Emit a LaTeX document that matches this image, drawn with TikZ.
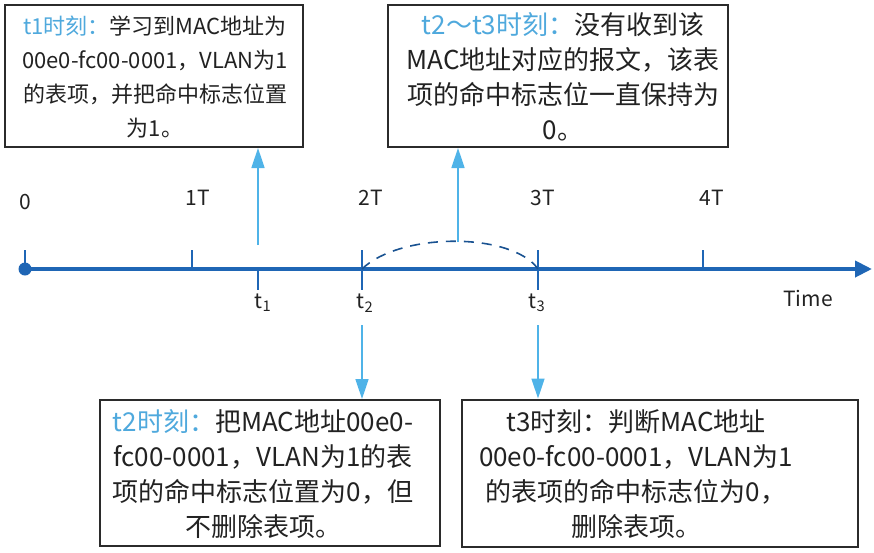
\documentclass[tikz,border=0pt]{standalone}
\usepackage{fontspec}
\setmainfont{Noto Sans CJK SC}
\usetikzlibrary{arrows.meta}
\definecolor{axisblue}{HTML}{1F66B5}
\definecolor{arrowblue}{HTML}{4FB3E8}
\definecolor{labelblue}{HTML}{4FA9DD}
\definecolor{boxline}{HTML}{2B2B2B}
\definecolor{txt}{HTML}{222222}
\tikzset{
  infobox/.style={draw=boxline, line width=2pt, fill=white, inner sep=0pt},
  boxtext/.style={inner sep=0pt, align=center, text=txt, font=\fontsize{26}{35}\selectfont},
  smalltext/.style={boxtext, font=\fontsize{22}{34}\selectfont},
  ticklabel/.style={font=\fontsize{21}{24}\selectfont, text=txt, inner sep=0pt},
  tickmark/.style={draw=axisblue, line width=2pt},
  callout/.style={draw=arrowblue, line width=1.6pt, -{Triangle[length=20pt,width=13pt]}},
}
\newcommand{\hl}[1]{\textcolor{labelblue}{#1}}
\begin{document}
\begin{tikzpicture}[x=1pt,y=-1pt]
\useasboundingbox (0,0) rectangle (874,552);
% boxes
\node[infobox, minimum width=298pt, minimum height=142pt] (b1) at (154,76) {};
\node[smalltext] (t1text) at (155,77)
  {\hl{t1时刻：}学习到MAC地址为\\00e0-fc00-0001，VLAN为1\\的表项，并把命中标志位置\\为1。};
\node[infobox, minimum width=340pt, minimum height=142pt] (b2) at (558,76) {};
\node[boxtext] (t2text) at (563,77)
  {\hl{t2～t3时刻：}没有收到该\\MAC地址对应的报文，该表\\项的命中标志位一直保持为\\0。};
\node[infobox, minimum width=340pt, minimum height=146pt] (b3) at (270,473) {};
\node[boxtext] (t3text) at (263,474)
  {\hl{t2时刻：}把MAC地址00e0-\\fc00-0001，VLAN为1的表\\项的命中标志位置为0，但\\不删除表项。};
\node[infobox, minimum width=396pt, minimum height=147pt] (b4) at (660,473) {};
\node[boxtext] (t4text) at (636,474)
  {t3时刻：判断MAC地址\\00e0-fc00-0001，VLAN为1\\的表项的命中标志位为0，\\删除表项。};
% axis
\coordinate (o) at (25,269);
\coordinate (tip) at (872,269);
\coordinate (p1) at (192,269);
\coordinate (t1) at (258,269);
\coordinate (t2) at (362,269);
\coordinate (t3) at (538,269);
\coordinate (p4) at (703,269);
\draw[tickmark] (o) -- ++(0,-19);
\draw[tickmark] (p1) -- ++(0,-19);
\draw[tickmark] (t1) -- ++(0,21);
\draw[tickmark] (t2) ++(0,-19) -- ++(0,40);
\draw[tickmark] (t3) ++(0,-19) -- ++(0,40);
\draw[tickmark] (p4) -- ++(0,-19);
\draw[axisblue, line width=4pt, -{Triangle[length=17pt,width=16pt]}] (o) -- (tip);
\fill[axisblue] (o) circle (6.5pt);
% labels
\node[ticklabel] (l0) at (25,202) {0};
\node[ticklabel] (l1) at (198,198) {1T};
\node[ticklabel] (l2) at (371,198) {2T};
\node[ticklabel] (l3) at (543,198) {3T};
\node[ticklabel] (l4) at (712,198) {4T};
\node[ticklabel] (lt1) at (263,303) {t\textsubscript{1}};
\node[ticklabel] (lt2) at (365,303) {t\textsubscript{2}};
\node[ticklabel] (lt3) at (537,303) {t\textsubscript{3}};
\node[ticklabel] (ltime) at (808,298) {Time};
% dashed arc
\draw[draw=axisblue!80!black, line width=1.6pt, dash pattern=on 10pt off 8pt]
  (t2) .. controls (400,232) and (512,232) .. (t3);
\coordinate (a1) at (258,245);
\coordinate (a2) at (458,242);
\coordinate (a3) at (362,325);
\coordinate (a4) at (538,325);
\draw[callout] (a1) -- (a1 |- b1.south);
\draw[callout] (a2) -- (a2 |- b2.south);
\draw[callout] (a3) -- (a3 |- b3.north);
\draw[callout] (a4) -- (a4 |- b4.north);
\end{tikzpicture}
\end{document}
